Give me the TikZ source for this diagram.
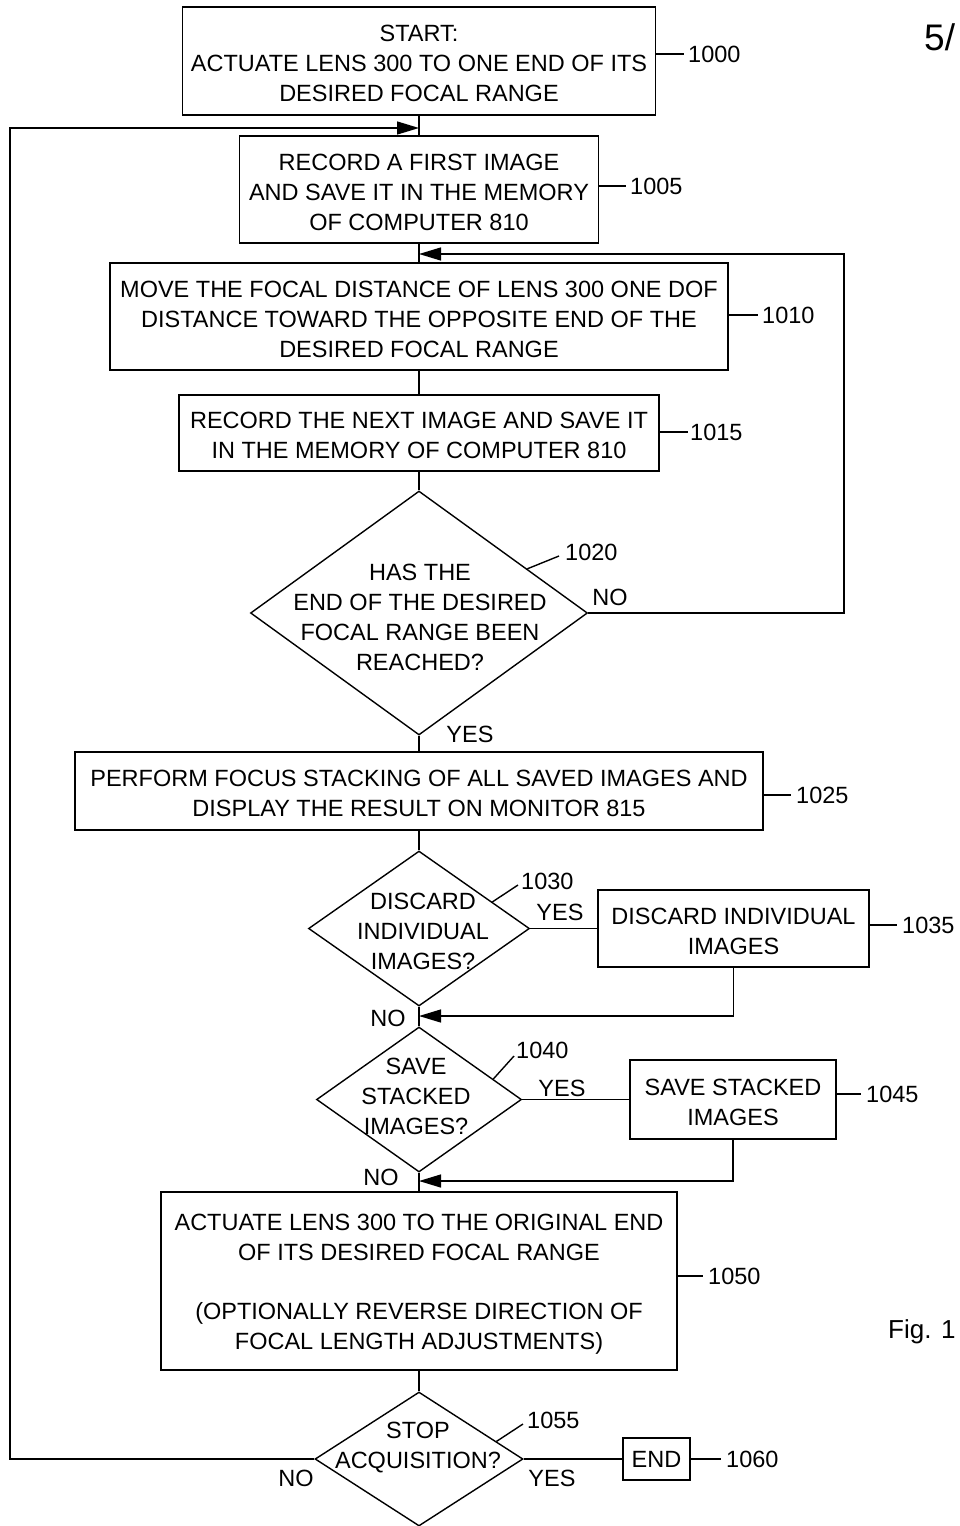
\documentclass[tikz,border=0pt]{standalone}
\usepackage{fontspec}
\setmainfont{Liberation Sans}
\usetikzlibrary{arrows.meta,shapes.geometric,calc}
\newcommand\tupstrut{\rule{0pt}{22pt}}
\begin{document}
\begin{tikzpicture}[x=1pt,y=-1pt,
  every node/.style={font=\fontsize{23.5}{30}\selectfont},
  box/.style={draw, line width=1.4pt, inner sep=0pt, align=center},
  dia/.style={draw, diamond, line width=1.4pt, inner sep=0pt},
  txt/.style={align=center, inner sep=0pt},
  lbl/.style={inner sep=0pt, anchor=west},
  line/.style={line width=1.4pt},
  arr/.style={line width=1.4pt, -{Triangle[length=22pt,width=13pt]}},
]
\useasboundingbox[fill=white] (0,0) rectangle (959,1526);

% boxes
\node[box, minimum width=473pt, minimum height=108pt] (b1000) at (419,61)
  {\tupstrut START:\\ACTUATE LENS 300 TO ONE END OF ITS\\DESIRED FOCAL RANGE};
\node[box, minimum width=359pt, minimum height=107pt] (b1005) at (419,189.5)
  {\tupstrut RECORD A FIRST IMAGE\\AND SAVE IT IN THE MEMORY\\OF COMPUTER 810};
\node[box, minimum width=618pt, minimum height=107pt] (b1010) at (419,316.5)
  {\tupstrut MOVE THE FOCAL DISTANCE OF LENS 300 ONE DOF\\DISTANCE TOWARD THE OPPOSITE END OF THE\\DESIRED FOCAL RANGE};
\node[box, minimum width=480pt, minimum height=76pt] (b1015) at (419,433)
  {\tupstrut RECORD THE NEXT IMAGE AND SAVE IT\\IN THE MEMORY OF COMPUTER 810};
\node[dia, minimum width=337pt, minimum height=244pt] (d1020) at (419,613) {};
\node[txt] (t1020) at (420,617) {HAS THE\\END OF THE DESIRED\\FOCAL RANGE BEEN\\REACHED?};
\node[box, minimum width=688pt, minimum height=78pt] (b1025) at (419,791)
  {\tupstrut PERFORM FOCUS STACKING OF ALL SAVED IMAGES AND\\DISPLAY THE RESULT ON MONITOR 815};
\node[dia, minimum width=221pt, minimum height=155pt] (d1030) at (419,928.5) {};
\node[txt] (t1030) at (423,931) {DISCARD\\INDIVIDUAL\\IMAGES?};
\node[box, minimum width=271pt, minimum height=77pt] (b1035) at (733.5,928.5)
  {\tupstrut DISCARD INDIVIDUAL\\IMAGES};
\node[dia, minimum width=205pt, minimum height=145pt] (d1040) at (419,1099.5) {};
\node[txt] (t1040) at (416,1096) {SAVE\\STACKED\\IMAGES?};
\node[box, minimum width=206pt, minimum height=79pt] (b1045) at (733,1099.5)
  {\tupstrut SAVE STACKED\\IMAGES};
\node[box, minimum width=516pt, minimum height=178pt] (b1050) at (419,1281)
  {\tupstrut ACTUATE LENS 300 TO THE ORIGINAL END\\OF ITS DESIRED FOCAL RANGE\\[29pt](OPTIONALLY REVERSE DIRECTION OF\\FOCAL LENGTH ADJUSTMENTS)};
\node[dia, minimum width=208pt, minimum height=134pt] (d1055) at (419,1459) {};
\node[txt] (t1055) at (418,1447) {STOP\\ACQUISITION?};
\node[box, minimum width=67pt, minimum height=42pt] (bend) at (656.5,1459) {END};

% junction points
\coordinate (j1) at (419,128);
\coordinate (j2) at (419,254);
\coordinate (j3) at (419,1016);
\coordinate (j4) at (419,1181);
\coordinate (lx) at (10,0);
\coordinate (rx) at (844,0);

% main flow
\draw[line] (b1000) -- (b1005);
\draw[line] (b1005) -- (b1010);
\draw[line] (b1010) -- (b1015);
\draw[line] (b1015) -- (d1020);
\draw[line] (d1020) -- (b1025);
\draw[line] (b1025) -- (d1030);
\draw[line] (d1030) -- (d1040);
\draw[line] (d1040) -- (b1050);
\draw[line] (b1050) -- (d1055);
\draw[line] (d1030) -- (b1035);
\draw[line] (d1040) -- (b1045);
\draw[line] (d1055) -- (bend);

% loops
\draw[arr] (d1055.west) -| (lx |- j1) -- (j1);
\draw[arr] (d1020.east) -| (rx |- j2) -- (j2);
\draw[arr] (b1035.south) |- (j3);
\draw[arr] (b1045.south) |- (j4);

% yes / no
\node[txt] (n1020) at (610,597) {NO};
\node[txt] (y1020) at (470,734) {YES};
\node[txt] (y1030) at (560,912) {YES};
\node[txt] (n1030) at (388,1018) {NO};
\node[txt] (y1040) at (562,1088) {YES};
\node[txt] (n1040) at (381,1177) {NO};
\node[txt] (y1055) at (552,1478) {YES};
\node[txt] (n1055) at (296,1478) {NO};

% reference labels
\node[lbl] (l1000) at (688,54) {1000};
\draw[line] (b1000.east |- l1000.west) -- ([xshift=-4pt]l1000.west);
\node[lbl] (l1005) at (630,186) {1005};
\draw[line] (b1005.east |- l1005.west) -- ([xshift=-4pt]l1005.west);
\node[lbl] (l1010) at (762,315) {1010};
\draw[line] (b1010.east |- l1010.west) -- ([xshift=-4pt]l1010.west);
\node[lbl] (l1015) at (690,432) {1015};
\draw[line] (b1015.east |- l1015.west) -- ([xshift=-2pt]l1015.west);
\node[lbl] (l1025) at (796,795) {1025};
\draw[line] (b1025.east |- l1025.west) -- ([xshift=-5pt]l1025.west);
\node[lbl] (l1035) at (902,925) {1035};
\draw[line] (b1035.east |- l1035.west) -- ([xshift=-5pt]l1035.west);
\node[lbl] (l1045) at (866,1094) {1045};
\draw[line] (b1045.east |- l1045.west) -- ([xshift=-5pt]l1045.west);
\node[lbl] (l1050) at (708,1276) {1050};
\draw[line] (b1050.east |- l1050.west) -- ([xshift=-5pt]l1050.west);
\node[lbl] (l1060) at (726,1459) {1060};
\draw[line] (bend.east) -- ([xshift=-5pt]l1060.west);

\node[lbl] (l1020) at (565,552) {1020};
\draw[line] ($(d1020.north)!0.64!(d1020.east)$) -- ([shift={(-6pt,-4pt)}]l1020.west);
\node[lbl] (l1030) at (521,881) {1030};
\draw[line] ($(d1030.north)!0.66!(d1030.east)$) -- ([shift={(-3pt,-4pt)}]l1030.west);
\node[lbl] (l1040) at (516,1050) {1040};
\draw[line] ($(d1040.north)!0.72!(d1040.east)$) -- ([shift={(-2pt,-6pt)}]l1040.west);
\node[lbl] (l1055) at (527,1420) {1055};
\draw[line] ($(d1055.north)!0.74!(d1055.east)$) -- ([shift={(-4pt,-4pt)}]l1055.west);

% page marks
\node[lbl, font=\fontsize{37}{40}\selectfont] (page) at (924,37) {5/};
\node[lbl, font=\fontsize{26}{30}\selectfont] (fig) at (888,1332) {Fig. 1};
\end{tikzpicture}
\end{document}
